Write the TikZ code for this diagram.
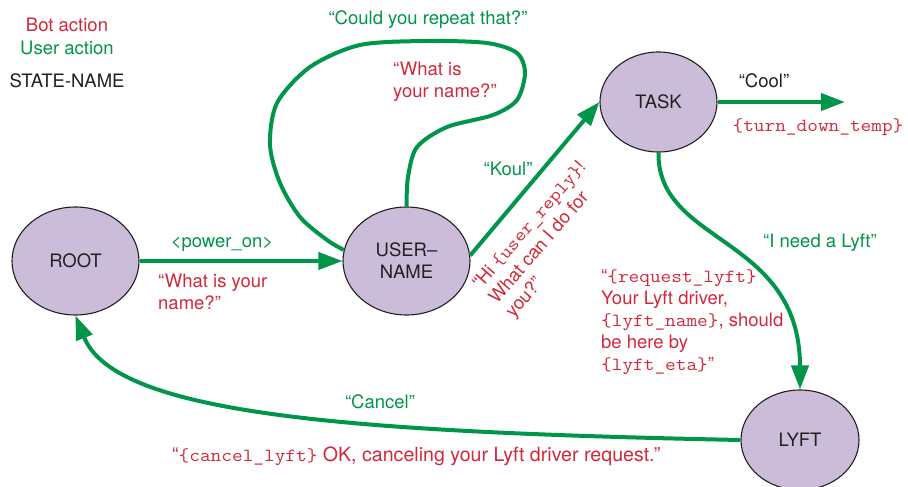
\documentclass[tikz,border=0pt]{standalone}
\usepackage{fontspec}
\setmainfont{TeX Gyre Heros}
\setmonofont{Latin Modern Mono}[FakeStretch=1.12]
\usetikzlibrary{arrows.meta,shapes.geometric}
\definecolor{grn}{HTML}{00954A}
\definecolor{rd}{HTML}{D2283A}
\definecolor{purp}{HTML}{CBBDD9}
\definecolor{outl}{HTML}{231F20}
\newcommand\mono[1]{{\ttfamily #1}}
\begin{document}
\begin{tikzpicture}[x=1pt,y=-1pt,
  font=\fontsize{18.5}{22}\selectfont,
  state/.style={ellipse, draw=outl, line width=1.1pt, fill=purp, minimum width=127pt, minimum height=108pt, inner sep=0pt, text=outl, align=center},
  flow/.style={draw=grn, line width=4pt, -{Triangle[length=24pt,width=17pt]}},
  flowplain/.style={draw=grn, line width=4pt},
  usr/.style={text=grn, inner sep=0pt},
  bot/.style={text=rd, inner sep=0pt},
  plain/.style={text=outl, inner sep=0pt}]
\path[use as bounding box] (0,0) rectangle (908,487);

% legend
\node[bot, anchor=base] (l1) at (67,32) {Bot action};
\node[usr, anchor=base] (l2) at (67,55) {User action};
\node[plain, anchor=base] (l3) at (67,88) {STATE-NAME};

% states
\node[state] (root) at (75.5,261) {ROOT};
\node[state] (un) at (406.5,261) {USER–\\NAME};
\node[state, minimum width=117pt, minimum height=100pt] (task) at (658.5,102) {TASK};
\node[state, minimum width=118pt, minimum height=100pt] (lyft) at (800,440) {LYFT};

% ROOT -> USERNAME
\draw[flow] (root) -- (un);
\node[usr, anchor=base] (pw) at (222,247) {<power\_on>};
\node[bot, anchor=north west, align=left] (rq1) at (158,273.5) {“What is your\\name?”};

% self loop
\draw[flowplain] plot[smooth] coordinates {(un.north) (408,177) (417,147) (447,127) (493,115) (517,100) (525,73) (517,53) (487,43) (427,41) (360,45) (310,67) (277,103) (270,145) (280,183) (300,217) (327,240) (un.170)};
\node[usr, anchor=base] (rep) at (428,25) {“Could you repeat that?”};
\node[bot, anchor=north west, align=left] (rq2) at (393,61.5) {“What is\\your name?”};

% USERNAME -> TASK
\draw[flow] (un.5) -- (task.west);
\node[usr, anchor=base] (koul) at (508,175) {“Koul”};
\node[bot, rotate=49, anchor=north west, align=left] (hi) at (470,281) {“Hi \mono{\{user\_reply\}}!\\What can I do for\\you?”};

% TASK -> out
\coordinate (coolend) at (845,102);
\draw[flow] (task.east) -- (coolend);
\node[plain, anchor=base] (cool) at (764,88) {“Cool”};
\node[bot, anchor=base] (tdt) at (818,131) {\mono{\{turn\_down\_temp\}}};

% TASK -> LYFT
\draw[flow] (task.south) .. controls (657,245) and (800,235) .. (lyft.north);
\node[usr, anchor=base] (need) at (820,247) {“I need a Lyft”};
\node[bot, anchor=north west, align=left] (req) at (601,269.5) {“\mono{\{request\_lyft\}}\\Your Lyft driver,\\\mono{\{lyft\_name\}}, should\\be here by\\\mono{\{lyft\_eta\}}”};

% LYFT -> ROOT
\draw[flow] (lyft.west) .. controls (350,432) and (115,415) .. (root.south);
\node[usr, anchor=base] (cancel) at (380,408) {“Cancel”};
\node[bot, anchor=base west, font=\fontsize{19.6}{22}\selectfont] (cl) at (172,461) {“{\fontsize{18.5}{22}\selectfont\mono{\{cancel\_lyft\}}} OK, canceling your Lyft driver request.”};
\end{tikzpicture}
\end{document}
